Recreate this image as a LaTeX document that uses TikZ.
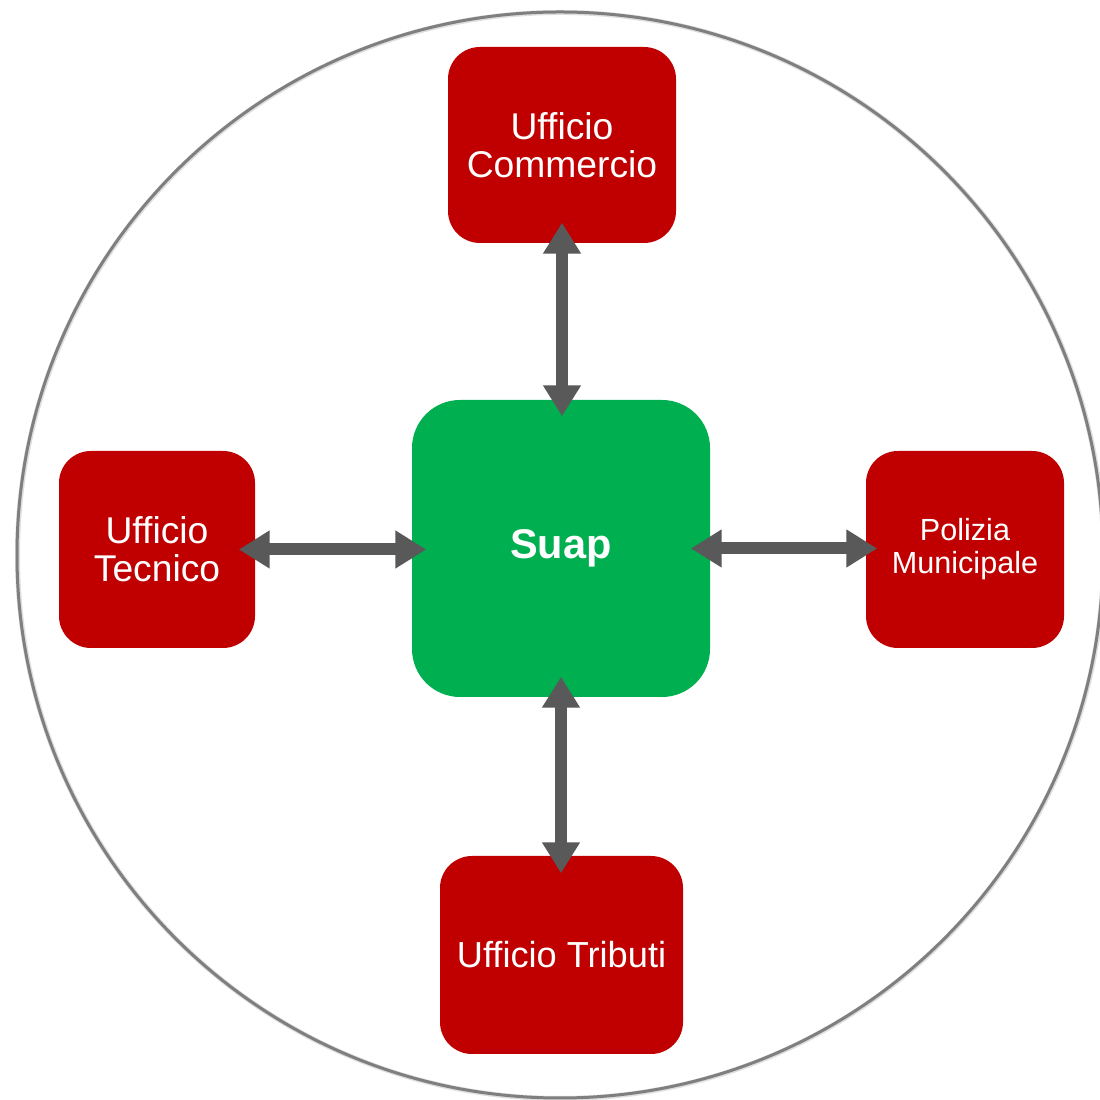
\documentclass[tikz,border=0pt]{standalone}
\usepackage{fontspec}
\setmainfont{Liberation Sans}
\usetikzlibrary{arrows.meta}
\definecolor{boxred}{HTML}{C00000}
\definecolor{boxgreen}{HTML}{00B050}
\definecolor{arrgray}{HTML}{595959}
\definecolor{ringgray}{HTML}{7F7F7F}
\tikzset{
  office/.style={fill=boxred, draw=none, rounded corners=0.32cm, text=white, align=center,
    inner sep=0pt, font=\fontsize{10.6pt}{10.8pt}\selectfont},
  hub/.style={fill=boxgreen, draw=none, rounded corners=0.48cm, text=white, align=center,
    inner sep=0pt, minimum width=2.98cm, minimum height=2.97cm, font=\fontsize{11.8pt}{12pt}\selectfont\bfseries},
  link/.style={arrgray, line width=0.12cm, {Triangle[width=0.36cm,length=0.31cm]}-{Triangle[width=0.36cm,length=0.31cm]}}
}
\begin{document}
\begin{tikzpicture}
\useasboundingbox (0,0) rectangle (11,11);
\fill[white] (0,0) rectangle (11,11);
\draw[ringgray!25, line width=0.05cm] (5.605,5.445) circle (5.43cm);
\draw[ringgray, line width=0.03cm] (5.60,5.45) circle (5.43cm);

\node[hub] (suap) at (5.61,5.515) {\raisebox{-0.03cm}{Suap}};
\node[office, minimum width=2.28cm, minimum height=1.96cm] (com) at (5.62,9.55) {Ufficio\\Commercio};
\node[office, minimum width=1.96cm, minimum height=1.97cm] (tec) at (1.57,5.505) {Ufficio\\Tecnico};
\node[office, minimum width=1.98cm, minimum height=1.97cm, font=\fontsize{8.7pt}{9.4pt}\selectfont] (pol) at (9.65,5.505) {Polizia\\Municipale};
\node[office, minimum width=2.43cm, minimum height=1.98cm, font=\fontsize{10.3pt}{11pt}\selectfont] (tri) at (5.615,1.45) {Ufficio Tributi};

\draw[link, shorten <=-0.21cm, shorten >=-0.17cm] (com.south) -- (com.south |- suap.north);
\draw[link, shorten <=-0.21cm, shorten >=-0.18cm] (suap.south) -- (suap.south |- tri.north);
\draw[link, shorten <=-0.17cm, shorten >=-0.15cm] (tec.east) -- (tec.east -| suap.west);
\draw[link, shorten <=-0.20cm, shorten >=-0.12cm] (suap.east) -- (suap.east -| pol.west);
\end{tikzpicture}
\end{document}
